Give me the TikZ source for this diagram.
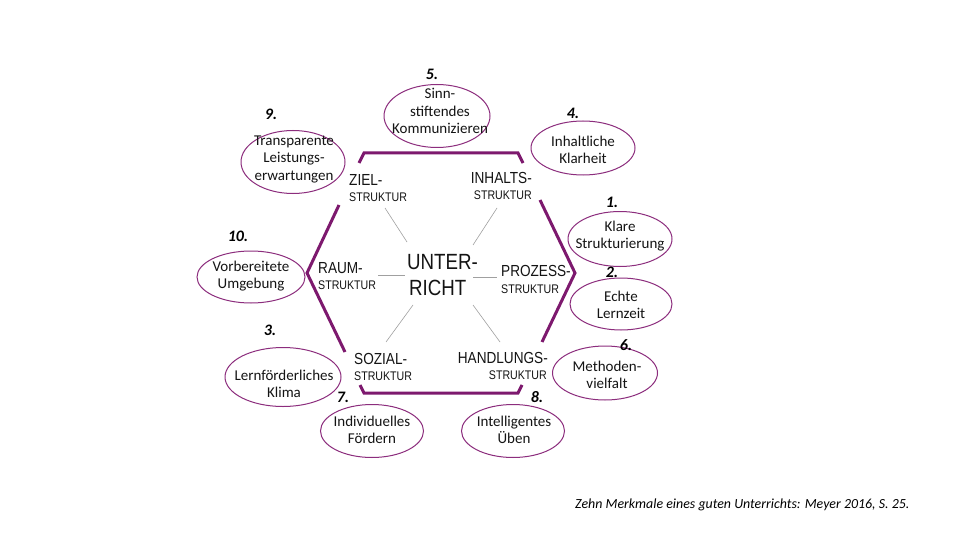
\documentclass[tikz,border=0pt]{standalone}
\usepackage{fontspec}
\setmainfont{Carlito}
\newfontfamily\hexfont[FakeStretch=0.85]{Liberation Sans}
\newfontfamily\ellfont{Carlito}
\usetikzlibrary{shapes.geometric}
\definecolor{hexpurple}{RGB}{125,25,110}
\definecolor{ellpurple}{RGB}{140,45,125}
\definecolor{txt}{RGB}{20,20,20}
\definecolor{spoke}{RGB}{160,160,160}
\tikzset{
  hexline/.style={draw=hexpurple,line width=3pt,line join=miter},
  spokeline/.style={draw=spoke,line width=0.6pt},
  ell/.style={draw=ellpurple,line width=1pt,ellipse,inner sep=0pt},
  elltext/.style={font=\ellfont\fontsize{15}{17.5}\selectfont,text=txt,align=center,inner sep=0pt},
  num/.style={font=\ellfont\bfseries\itshape\fontsize{16}{16}\selectfont,text=black,inner sep=0pt},
  bigl/.style={font=\hexfont\fontsize{16}{16}\selectfont,text=txt,inner sep=0pt},
  smalll/.style={font=\hexfont\fontsize{12.5}{12.5}\selectfont,text=txt,inner sep=0pt},
  centerl/.style={font=\hexfont\fontsize{22}{22}\selectfont,text=txt,inner sep=0pt},
  caption/.style={font=\ellfont\itshape\fontsize{13.9}{13.9}\selectfont,text=black,inner sep=0pt}
}
\begin{document}
\begin{tikzpicture}[x=1pt,y=-1pt]
\useasboundingbox[fill=white] (0,0) rectangle (960,540);

% hexagon segments
\coordinate (hL) at (307,273);
\coordinate (hTL) at (364,153);
\coordinate (hTR) at (518,153);
\coordinate (hR) at (575,273);
\coordinate (hBR) at (518,393);
\coordinate (hBL) at (364,393);
\coordinate (t1) at (359,163);
\coordinate (t2) at (523,163);
\coordinate (r1) at (540,200);
\coordinate (r2) at (542,342);
\coordinate (b1) at (522,385);
\coordinate (b2) at (360,385);
\coordinate (l1) at (339,205);
\coordinate (l2) at (345,352);
\draw[hexline] (t1) -- (hTL) -- (hTR) -- (t2);
\draw[hexline] (r1) -- (hR) -- (r2);
\draw[hexline] (b1) -- (hBR) -- (hBL) -- (b2);
\draw[hexline] (l1) -- (hL) -- (l2);

% center
\node[centerl,anchor=base west] (unter) at (407,269.3) {UNTER-};
\node[centerl,anchor=base west] (richt) at (409,295) {RICHT};

% structure labels
\node[bigl,anchor=base west] (zielA) at (349,185.5) {ZIEL-};
\node[smalll,anchor=base west] (zielB) at (349,201) {STRUKTUR};
\node[bigl,anchor=base east] (inhA) at (532,183.3) {INHALTS-};
\node[smalll,anchor=base east] (inhB) at (532,200) {STRUKTUR};
\node[bigl,anchor=base west] (raumA) at (318,273) {RAUM-};
\node[smalll,anchor=base west] (raumB) at (318,289) {STRUKTUR};
\node[bigl,anchor=base west] (prozA) at (501,276.7) {PROZESS-};
\node[smalll,anchor=base west] (prozB) at (501,293.3) {STRUKTUR};
\node[bigl,anchor=base west] (sozA) at (354,364) {SOZIAL-};
\node[smalll,anchor=base west] (sozB) at (354,380) {STRUKTUR};
\node[bigl,anchor=base east] (handA) at (548,363.3) {HANDLUNGS-};
\node[smalll,anchor=base east] (handB) at (547,379.3) {STRUKTUR};

% spokes
\coordinate (s1a) at (385,208); \coordinate (s1b) at (407,242);
\coordinate (s2a) at (497,208); \coordinate (s2b) at (473,245);
\coordinate (s3a) at (378,275); \coordinate (s3b) at (405,275);
\coordinate (s4a) at (473,277); \coordinate (s4b) at (497,277);
\coordinate (s5a) at (413,305); \coordinate (s5b) at (386,342);
\coordinate (s6a) at (473,305); \coordinate (s6b) at (500,342);
\draw[spokeline] (s1a) -- (s1b);
\draw[spokeline] (s2a) -- (s2b);
\draw[spokeline] (s3a) -- (s3b);
\draw[spokeline] (s4a) -- (s4b);
\draw[spokeline] (s5a) -- (s5b);
\draw[spokeline] (s6a) -- (s6b);

% ellipses
\node[ell,minimum width=106pt,minimum height=63pt] (e5) at (437,116) {};
\node[elltext] (t5) at (440,111) {Sinn-\\stiftendes\\Kommunizieren};
\node[ell,minimum width=104pt,minimum height=63pt] (e9) at (293,162) {};
\node[elltext] (t9) at (294,159) {Transparente\\Leistungs-\\erwartungen};
\node[ell,minimum width=104pt,minimum height=54pt] (e4) at (583,148) {};
\node[elltext] (t4) at (583,150) {Inhaltliche\\Klarheit};
\node[ell,minimum width=104pt,minimum height=55pt] (e1) at (620,239) {};
\node[elltext] (t1t) at (620,236) {Klare\\Strukturierung};
\node[ell,minimum width=102pt,minimum height=52pt] (e2) at (621,304) {};
\node[elltext] (t2t) at (621,305) {Echte\\Lernzeit};
\node[ell,minimum width=108pt,minimum height=52pt] (e10) at (251,277) {};
\node[elltext] (t10) at (251,276) {Vorbereitete\\Umgebung};
\node[ell,minimum width=116pt,minimum height=59pt] (e3) at (283,377) {};
\node[elltext] (t3) at (284,384) {Lernförderliches\\Klima};
\node[ell,minimum width=105pt,minimum height=54pt] (e6) at (605,373) {};
\node[elltext] (t6) at (607,375) {Methoden-\\vielfalt};
\node[ell,minimum width=103pt,minimum height=53pt] (e7) at (372,431) {};
\node[elltext] (t7) at (372,430) {Individuelles\\Fördern};
\node[ell,minimum width=103pt,minimum height=53pt] (e8) at (513,431) {};
\node[elltext] (t8) at (514,430) {Intelligentes\\Üben};

% numbers
\node[num] (n5) at (432,74) {5.};
\node[num] (n9) at (271,114) {9.};
\node[num] (n4) at (573,113) {4.};
\node[num] (n1) at (612,202) {1.};
\node[num] (n2) at (612,272) {2.};
\node[num] (n10) at (238,236) {10.};
\node[num] (n3) at (270,330) {3.};
\node[num] (n6) at (626,345) {6.};
\node[num] (n7) at (343,397) {7.};
\node[num] (n8) at (537,397) {8.};

% caption
\node[caption,anchor=west] (cap) at (575,505) {Zehn Merkmale eines guten Unterrichts: Meyer 2016, S. 25.};
\end{tikzpicture}
\end{document}
